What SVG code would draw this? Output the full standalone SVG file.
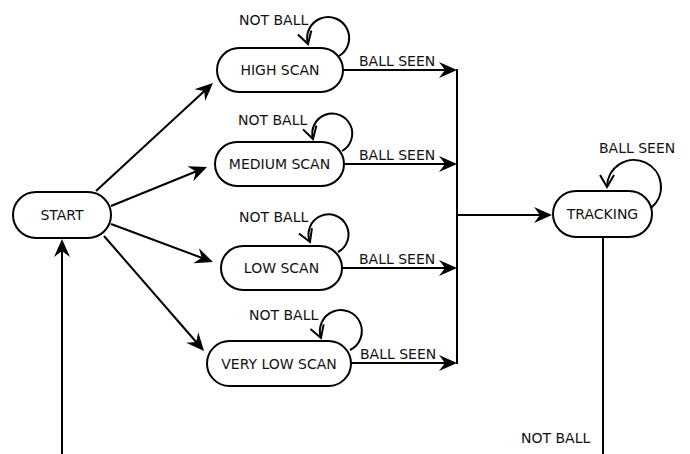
<svg xmlns="http://www.w3.org/2000/svg" width="690" height="454" viewBox="0 0 690 454">
<style>
.node rect{fill:#fff;stroke:#000;stroke-width:2}
text{font-family:"DejaVu Sans",sans-serif;font-size:14px;fill:#111}
.nt{text-anchor:middle;dominant-baseline:central}
.ln{fill:none;stroke:#000;stroke-width:2}
.arr{marker-end:url(#ah)}
.loop{marker-end:url(#ov)}
</style>
<defs>
<marker id="ah" markerUnits="userSpaceOnUse" viewBox="-20 -9 22 18" refX="-8" refY="0" markerWidth="22" markerHeight="18" orient="auto">
<path d="M0,0 L-18,-8 L-12,0 L-18,8 Z" fill="#000"/>
</marker>
<marker id="ov" markerUnits="userSpaceOnUse" viewBox="-14 -8 16 16" refX="0" refY="0" markerWidth="16" markerHeight="16" orient="auto">
<path d="M-12,-7 L0,0 L-12,7" fill="none" stroke="#000" stroke-width="2"/>
</marker>
</defs>
<rect width="690" height="454" fill="#fff"/>
<g id="connectors">
<path class="ln arr" d="M96 191 L207.1 88.4"/>
<path class="ln arr" d="M111 206 L199.6 170"/>
<path class="ln arr" d="M111 224 L205.5 259.2"/>
<path class="ln arr" d="M104 236 L198.8 345"/>
<path class="ln arr" d="M62 454 L62 247"/>
<path class="ln arr" d="M343 70 L449 70"/>
<path class="ln arr" d="M344 164 L449 164"/>
<path class="ln arr" d="M342 268 L449 268"/>
<path class="ln arr" d="M351 363 L449 363"/>
<path class="ln" d="M457 69 L457 364"/>
<path class="ln arr" d="M457 215 L544 215"/>
<path class="ln" d="M603 237 L603 454"/>
<path class="ln loop" d="M339 56 A21 21 0 1 0 308 44"/>
<path class="ln loop" d="M342 151 A20 20 0 1 0 313 139"/>
<path class="ln loop" d="M338 252 A20 20 0 1 0 310 242"/>
<path class="ln loop" d="M350 350 A21 21 0 1 0 321 338"/>
<path class="ln loop" d="M651 208 A27 27 0 1 0 607 187"/>
<text x="239" y="25">NOT BALL</text>
<text x="238" y="125">NOT BALL</text>
<text x="239" y="222">NOT BALL</text>
<text x="249" y="320">NOT BALL</text>
<text x="359" y="66">BALL SEEN</text>
<text x="359" y="160">BALL SEEN</text>
<text x="359" y="264">BALL SEEN</text>
<text x="360" y="359">BALL SEEN</text>
<text x="599" y="153">BALL SEEN</text>
<text x="521" y="443">NOT BALL</text>
</g>
<g id="start" class="node"><rect x="13" y="192" width="98" height="46" rx="23"/><text class="nt" x="62" y="215">START</text></g>
<g id="high-scan" class="node"><rect x="217" y="48" width="126" height="44" rx="22"/><text class="nt" x="280" y="70">HIGH SCAN</text></g>
<g id="medium-scan" class="node"><rect x="215" y="142" width="129" height="44" rx="22"/><text class="nt" x="279.5" y="164">MEDIUM SCAN</text></g>
<g id="low-scan" class="node"><rect x="221" y="246" width="121" height="44" rx="22"/><text class="nt" x="281.5" y="268">LOW SCAN</text></g>
<g id="very-low-scan" class="node"><rect x="207" y="341" width="144" height="45" rx="22.5"/><text class="nt" x="279" y="363.5">VERY LOW SCAN</text></g>
<g id="tracking" class="node"><rect x="553" y="191" width="99" height="46" rx="23"/><text class="nt" x="602.5" y="214">TRACKING</text></g>
</svg>
